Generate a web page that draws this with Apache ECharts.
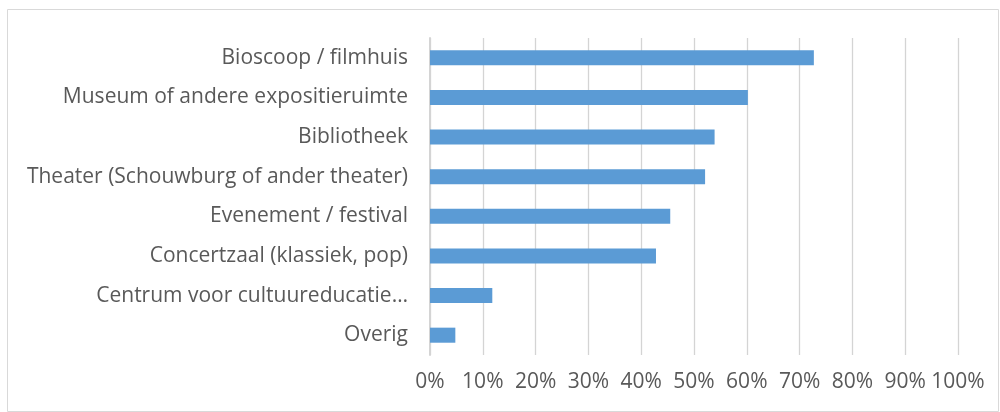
<!DOCTYPE html>
<html>
<head>
<meta charset="utf-8">
<script src="https://cdn.jsdelivr.net/npm/echarts@6/dist/echarts.min.js"></script>
<style>
  html, body { margin: 0; padding: 0; background: #fff; }
  #chart { width: 1000px; height: 412px; }
</style>
</head>
<body>
<div id="chart"></div>
<script>
// categories from top to bottom as shown
var categories = [
  "Bioscoop / filmhuis",
  "Museum of andere expositieruimte",
  "Bibliotheek",
  "Theater (Schouwburg of ander theater)",
  "Evenement / festival",
  "Concertzaal (klassiek, pop)",
  "Centrum voor cultuureducatie…",
  "Overig"
];
// share in percent
var values = [72.7, 60.2, 53.9, 52.1, 45.5, 42.8, 11.8, 4.8];
var tickMax = 100;
var tickStep = 10;

var fontFamily = "'Open Sans', 'Liberation Sans', sans-serif";
var textColor = "#595959";

var myChart = echarts.init(document.getElementById("chart"));
myChart.setOption({
  animation: false,
  color: ["#5b9bd5"],
  graphic: [
    {
      type: "rect",
      shape: { x: 7.5, y: 9.5, width: 991, height: 402 },
      style: { fill: "none", stroke: "#d9d9d9", lineWidth: 1 },
      silent: true
    }
  ],
  grid: {
    left: 430,
    right: 42,
    top: 38,
    bottom: 57
  },
  xAxis: {
    type: "value",
    min: 0,
    max: tickMax,
    interval: tickStep,
    axisLine: { show: false },
    axisTick: { show: false },
    splitLine: { lineStyle: { color: "#d4d4d4", width: 1.3 } },
    axisLabel: {
      color: textColor,
      fontFamily: fontFamily,
      fontSize: 21,
      margin: 17,
      formatter: function (v) { return v + "%"; }
    }
  },
  yAxis: {
    type: "category",
    inverse: true,
    data: categories,
    axisLine: { show: true, lineStyle: { color: "#d4d4d4", width: 2 } },
    axisTick: { show: false },
    axisLabel: {
      color: textColor,
      fontFamily: fontFamily,
      fontSize: 21,
      margin: 22
    }
  },
  series: [
    {
      type: "bar",
      data: values,
      barWidth: "38%",
      itemStyle: { color: "#5b9bd5" }
    }
  ]
});
</script>
</body>
</html>
